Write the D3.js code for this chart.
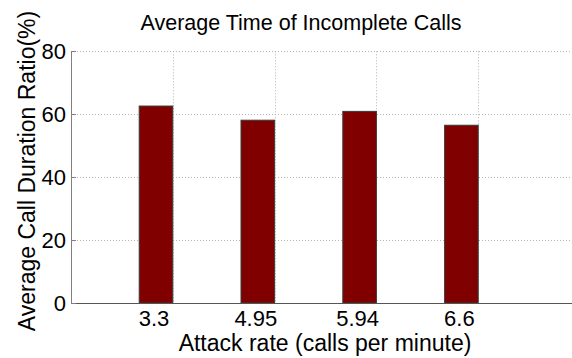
<!DOCTYPE html>
<html>
<head>
<meta charset="utf-8">
<script src="https://cdn.jsdelivr.net/npm/d3@7"></script>
<style>
  body { margin: 0; background: #fff; }
  svg { display: block; font-family: "Liberation Sans", Arial, sans-serif; }
</style>
</head>
<body>
<div id="chart"></div>
<script>
const categories = ["3.3", "4.95", "5.94", "6.6"];
const values = [62.6, 58.1, 60.9, 56.5];
const yTicks = [0, 20, 40, 60, 80];

const W = 572, H = 358;
const margin = { top: 51.3, left: 71, bottom: 55 };
const plotH = H - margin.top - margin.bottom;

const svg = d3.select("#chart").append("svg")
  .attr("width", W)
  .attr("height", H);

// bars sit left of each integer slot, like a grouped MATLAB bar
const x = d3.scaleLinear().domain([0, 5]).range([margin.left, margin.left + 5 * 101.8]);
const y = d3.scaleLinear().domain([0, 80]).range([margin.top + plotH, margin.top]);
const barW = 0.33;

// grid
const grid = svg.append("g")
  .attr("stroke", "#b4b4b4")
  .attr("stroke-width", 1)
  .attr("stroke-dasharray", "1 2");

grid.selectAll(".hg")
  .data(yTicks.filter(d => d > 0))
  .enter().append("line")
  .attr("x1", x(0)).attr("x2", W)
  .attr("y1", d => Math.round(y(d)) + 0.5)
  .attr("y2", d => Math.round(y(d)) + 0.5);

grid.selectAll(".vg")
  .data(categories)
  .enter().append("line")
  .attr("x1", (d, i) => Math.round(x(i + 1)) + 0.5)
  .attr("x2", (d, i) => Math.round(x(i + 1)) + 0.5)
  .attr("y1", y(80))
  .attr("y2", y(0));

// bars
svg.selectAll(".bar")
  .data(values)
  .enter().append("rect")
  .attr("class", "bar")
  .attr("x", (d, i) => x(i + 1 - barW))
  .attr("width", x(barW) - x(0))
  .attr("y", d => y(d))
  .attr("height", d => y(0) - y(d))
  .attr("fill", "#800000")
  .attr("stroke", "#3a3a3a")
  .attr("stroke-width", 1);

// axes
svg.append("line")
  .attr("x1", x(0) + 0.5).attr("x2", x(0) + 0.5)
  .attr("y1", y(80)).attr("y2", y(0))
  .attr("stroke", "#808080");

svg.append("line")
  .attr("x1", x(0)).attr("x2", W)
  .attr("y1", Math.round(y(0)) + 0.5).attr("y2", Math.round(y(0)) + 0.5)
  .attr("stroke", "#555");

svg.selectAll(".ytick")
  .data(yTicks)
  .enter().append("line")
  .attr("x1", x(0)).attr("x2", x(0) + 5)
  .attr("y1", d => Math.round(y(d)) + 0.5)
  .attr("y2", d => Math.round(y(d)) + 0.5)
  .attr("stroke", "#808080");

// y tick labels
svg.selectAll(".ylab")
  .data(yTicks)
  .enter().append("text")
  .attr("x", x(0) - 5)
  .attr("y", d => y(d) + 8)
  .attr("text-anchor", "end")
  .style("font-size", "22px")
  .text(d => d);

// x tick labels, centred under the bars
svg.selectAll(".xlab")
  .data(categories)
  .enter().append("text")
  .attr("x", (d, i) => x(i + 1 - barW / 2) - 2)
  .attr("y", 325.5)
  .attr("text-anchor", "middle")
  .style("font-size", "22px")
  .text(d => d);

// title
svg.append("text")
  .attr("x", 301)
  .attr("y", 30)
  .attr("text-anchor", "middle")
  .style("font-size", "21.5px")
  .text("Average Time of Incomplete Calls");

// x label
svg.append("text")
  .attr("x", 325)
  .attr("y", 350.5)
  .attr("text-anchor", "middle")
  .style("font-size", "23px")
  .text("Attack rate (calls per minute)");

// y label
svg.append("text")
  .attr("transform", "rotate(-90)")
  .attr("x", -171)
  .attr("y", 35)
  .attr("text-anchor", "middle")
  .style("font-size", "23px")
  .text("Average Call Duration Ratio(%)");
</script>
</body>
</html>
